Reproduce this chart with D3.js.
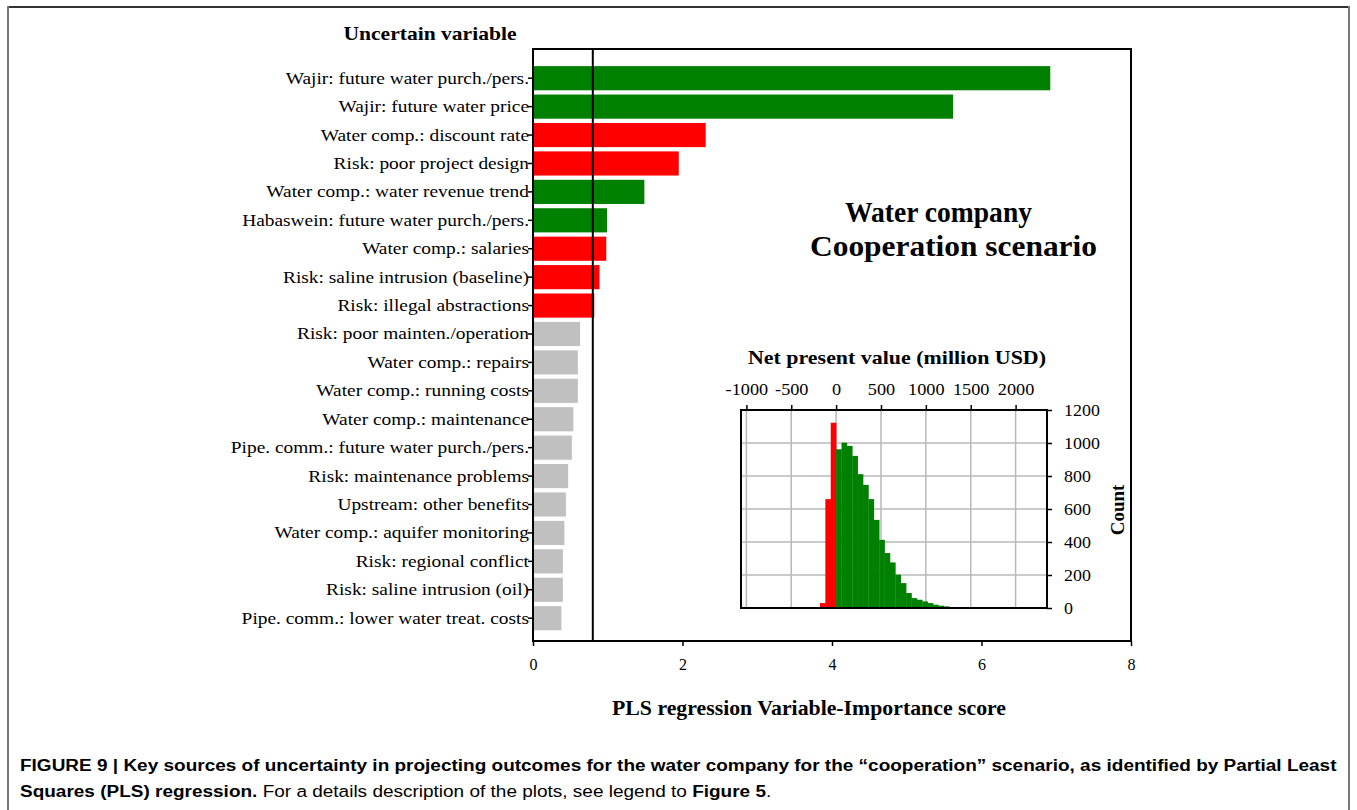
<!DOCTYPE html>
<html><head><meta charset="utf-8">
<script src="https://cdn.jsdelivr.net/npm/d3@7"></script>
<style>body{margin:0;background:#fff}svg{display:block}</style>
</head><body>
<svg id="c" width="1357" height="810"></svg>
<script>
// ---------- data ----------
const categories = [
  "Wajir: future water purch./pers.",
  "Wajir: future water price",
  "Water comp.: discount rate",
  "Risk: poor project design",
  "Water comp.: water revenue trend",
  "Habaswein: future water purch./pers.",
  "Water comp.: salaries",
  "Risk: saline intrusion (baseline)",
  "Risk: illegal abstractions",
  "Risk: poor mainten./operation",
  "Water comp.: repairs",
  "Water comp.: running costs",
  "Water comp.: maintenance",
  "Pipe. comm.: future water purch./pers.",
  "Risk: maintenance problems",
  "Upstream: other benefits",
  "Water comp.: aquifer monitoring",
  "Risk: regional conflict",
  "Risk: saline intrusion (oil)",
  "Pipe. comm.: lower water treat. costs"
];
const vipScores = [6.92, 5.62, 2.31, 1.95, 1.49, 0.99, 0.98, 0.89, 0.82, 0.63, 0.60, 0.60, 0.54, 0.52, 0.47, 0.44, 0.42, 0.40, 0.40, 0.38];
const effect = ["pos","pos","neg","neg","pos","pos","neg","neg","neg","ns","ns","ns","ns","ns","ns","ns","ns","ns","ns","ns"];
const vipThreshold = 0.8;
const xTicks = [0, 2, 4, 6, 8];

const histBinStart = [-180,-120,-60,0,60,120,180,240,300,360,420,480,540,600,660,720,780,840,900,960,1020,1080,1140,1200,1260,1320,1380];
const histBinWidth = 60;
const histCounts = [30,660,1123,962,1002,982,922,811,746,660,534,413,333,276,202,151,91,60,50,40,30,20,14,10,6,4,2];
const npvTicks = [-1000,-500,0,500,1000,1500,2000];
const countTicks = [0,200,400,600,800,1000,1200];

// ---------- style ----------
const colors = {pos:"#008000", neg:"#ff0000", ns:"#c0c0c0"};
const serif = "'Liberation Serif','Times New Roman',serif";
const sans = "'Liberation Sans',Arial,sans-serif";

function stretch(sel, f) {
  sel.each(function() {
    const w = this.getComputedTextLength();
    d3.select(this).attr("textLength", w * f).attr("lengthAdjust", "spacingAndGlyphs");
  });
}

const svg = d3.select("#c");

// outer frame
svg.append("line").attr("x1",8).attr("x2",1349).attr("y1",7).attr("y2",7).attr("stroke","#333").attr("stroke-width",2);
svg.append("line").attr("x1",8).attr("x2",8).attr("y1",6).attr("y2",810).attr("stroke","#777").attr("stroke-width",2);
svg.append("line").attr("x1",1349).attr("x2",1349).attr("y1",6).attr("y2",810).attr("stroke","#777").attr("stroke-width",2);

// ---------- main chart ----------
const P = {left:533, right:1131, top:49, bottom:641};
const x = d3.scaleLinear().domain([0,8]).range([P.left,P.right]);
const y = d3.scaleBand().domain(categories).range([64,632.4]).paddingInner(0.15).paddingOuter(0.075);

const g = svg.append("g");
g.selectAll("rect.bar").data(categories).join("rect")
  .attr("class","bar")
  .attr("x", x(0))
  .attr("y", d => y(d))
  .attr("width", (d,i) => x(vipScores[i]) - x(0))
  .attr("height", y.bandwidth())
  .attr("fill", (d,i) => colors[effect[i]]);

// threshold line
g.append("line").attr("x1",x(vipThreshold)).attr("x2",x(vipThreshold))
  .attr("y1",P.top).attr("y2",P.bottom).attr("stroke","#000").attr("stroke-width",2);

// frame
g.append("rect").attr("x",P.left).attr("y",P.top).attr("width",P.right-P.left).attr("height",P.bottom-P.top)
  .attr("fill","none").attr("stroke","#000").attr("stroke-width",2);

// y axis
const yAx = g.append("g").attr("transform",`translate(${P.left},0)`)
  .call(d3.axisLeft(y).tickSize(5).tickPadding(3));
yAx.select(".domain").remove();
yAx.selectAll("line").attr("stroke","#000").attr("stroke-width",1.5);
yAx.selectAll("text").attr("font-family",serif).attr("font-size",17).attr("fill","#000").attr("x",-4);
stretch(yAx.selectAll("text"), 1.14);

// x axis
const xAx = g.append("g").attr("transform",`translate(0,${P.bottom})`)
  .call(d3.axisBottom(x).tickValues(xTicks).tickSize(5).tickPadding(13).tickFormat(d => String(d)));
xAx.select(".domain").remove();
xAx.selectAll("line").attr("stroke","#000").attr("stroke-width",1.5);
xAx.selectAll("text").attr("font-family",serif).attr("font-size",16).attr("fill","#000");

g.append("text").attr("x",430).attr("y",40).attr("text-anchor","middle")
  .attr("font-family",serif).attr("font-weight","bold").attr("font-size",19)
  .attr("textLength",173).attr("lengthAdjust","spacingAndGlyphs")
  .text("Uncertain variable");
g.append("text").attr("x",809).attr("y",715).attr("text-anchor","middle")
  .attr("font-family",serif).attr("font-weight","bold").attr("font-size",21)
  .attr("textLength",394).attr("lengthAdjust","spacingAndGlyphs")
  .text("PLS regression Variable-Importance score");

g.append("text").attr("x",938.5).attr("y",222).attr("text-anchor","middle")
  .attr("font-family",serif).attr("font-weight","bold").attr("font-size",29)
  .attr("textLength",187).attr("lengthAdjust","spacingAndGlyphs")
  .text("Water company");
g.append("text").attr("x",953.5).attr("y",256).attr("text-anchor","middle")
  .attr("font-family",serif).attr("font-weight","bold").attr("font-size",29)
  .attr("textLength",287).attr("lengthAdjust","spacingAndGlyphs")
  .text("Cooperation scenario");

// ---------- inset histogram ----------
const I = {left:741, right:1047, top:410, bottom:608};
const hx = d3.scaleLinear().domain([-1060,2350]).range([I.left,I.right]);
const hy = d3.scaleLinear().domain([0,1200]).range([I.bottom,I.top]);
const h = svg.append("g");

// grid
h.selectAll("line.vg").data(npvTicks).join("line").attr("class","vg")
  .attr("x1",d=>hx(d)).attr("x2",d=>hx(d)).attr("y1",I.top).attr("y2",I.bottom)
  .attr("stroke","#b8b8b8").attr("stroke-width",1.5);
h.selectAll("line.hg").data(countTicks.slice(1,-1)).join("line").attr("class","hg")
  .attr("x1",I.left).attr("x2",I.right).attr("y1",d=>hy(d)).attr("y2",d=>hy(d))
  .attr("stroke","#b8b8b8").attr("stroke-width",1.5);

h.selectAll("rect.hb").data(histBinStart).join("rect").attr("class","hb")
  .attr("x",d=>hx(d))
  .attr("width",d=>hx(d+histBinWidth)-hx(d)+0.3)
  .attr("y",(d,i)=>hy(histCounts[i]))
  .attr("height",(d,i)=>hy(0)-hy(histCounts[i]))
  .attr("fill",d=> d < 0 ? colors.neg : colors.pos);

h.append("rect").attr("x",I.left).attr("y",I.top).attr("width",I.right-I.left).attr("height",I.bottom-I.top)
  .attr("fill","none").attr("stroke","#000").attr("stroke-width",2);

const hxAx = h.append("g").attr("transform",`translate(0,${I.top})`)
  .call(d3.axisTop(hx).tickValues(npvTicks).tickSize(5).tickPadding(10).tickFormat(d => String(d)));
hxAx.select(".domain").remove();
hxAx.selectAll("line").attr("stroke","#000").attr("stroke-width",1.5);
hxAx.selectAll("text").attr("font-family",serif).attr("font-size",16).attr("fill","#000");
stretch(hxAx.selectAll("text"), 1.14);

const hyAx = h.append("g").attr("transform",`translate(${I.right},0)`)
  .call(d3.axisRight(hy).tickValues(countTicks).tickSize(5).tickPadding(12).tickFormat(d => String(d)));
hyAx.select(".domain").remove();
hyAx.selectAll("line").attr("stroke","#000").attr("stroke-width",1.5);
hyAx.selectAll("text").attr("font-family",serif).attr("font-size",16).attr("fill","#000");
stretch(hyAx.selectAll("text"), 1.12);

h.append("text").attr("x",897).attr("y",364).attr("text-anchor","middle")
  .attr("font-family",serif).attr("font-weight","bold").attr("font-size",19)
  .attr("textLength",298).attr("lengthAdjust","spacingAndGlyphs")
  .text("Net present value (million USD)");
h.append("text").attr("transform","translate(1124,510) rotate(-90)").attr("text-anchor","middle")
  .attr("font-family",serif).attr("font-weight","bold").attr("font-size",19)
  .text("Count");

// ---------- caption ----------
const cap = svg.append("g").attr("font-family",sans).attr("font-size",17).attr("fill","#000");
const l1 = cap.append("text").attr("x",0).attr("y",771).attr("font-weight","bold")
  .text("FIGURE 9 | Key sources of uncertainty in projecting outcomes for the water company for the \u201Ccooperation\u201D scenario, as identified by Partial Least");
const l2 = cap.append("text").attr("x",0).attr("y",797);
l2.append("tspan").attr("font-weight","bold").text("Squares (PLS) regression.");
l2.append("tspan").text(" For a details description of the plots, see legend to ");
l2.append("tspan").attr("font-weight","bold").text("Figure 5");
l2.append("tspan").text(".");
const capScale = 1317 / l1.node().getComputedTextLength();
cap.attr("transform", `translate(20,0) scale(${capScale},1)`);
</script>
</body></html>
